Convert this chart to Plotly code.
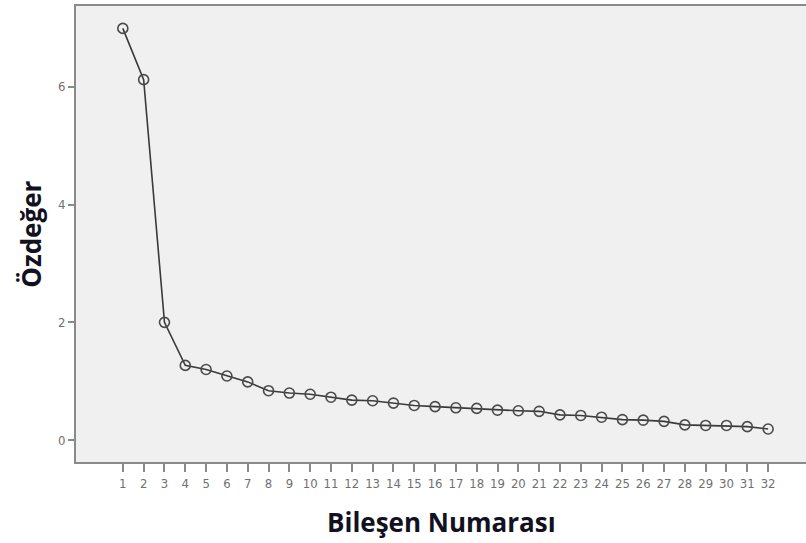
import plotly.graph_objects as go

components = list(range(1, 33))
eigenvalues = [6.99, 6.12, 2.00, 1.27, 1.20, 1.09, 0.99, 0.84, 0.80, 0.78,
               0.73, 0.68, 0.67, 0.63, 0.59, 0.57, 0.55, 0.54, 0.51, 0.50,
               0.49, 0.43, 0.42, 0.39, 0.35, 0.34, 0.32, 0.26, 0.25, 0.25,
               0.23, 0.19]
y_ticks = [0, 2, 4, 6]

tick_font = dict(size=13, color="#707070",
                 family="Liberation Sans Narrow, DejaVu Sans Condensed, DejaVu Sans")
title_font = dict(size=26, color="#111122", family="Open Sans, DejaVu Sans")

fig = go.Figure()
fig.add_trace(go.Scatter(
    x=components, y=eigenvalues, mode="lines+markers",
    line=dict(color="#3a3a3a", width=1.6),
    marker=dict(symbol="circle-open", size=10, color="#4a4a4a",
                line=dict(width=1.6, color="#4a4a4a")),
    showlegend=False, hoverinfo="x+y",
))

fig.update_layout(
    width=806, height=543,
    margin=dict(l=76, r=0, t=6, b=81),
    paper_bgcolor="white", plot_bgcolor="#f0f0f0",
    font=dict(family="Open Sans, DejaVu Sans", color="#555555"),
    xaxis=dict(
        range=[-1.25, 33.82], tickmode="array", tickvals=components,
        ticktext=[str(c) for c in components],
        showgrid=False, zeroline=False, showline=True, linecolor="#8a8a8a",
        linewidth=2, mirror=True, ticks="outside", ticklen=8, tickwidth=2,
        tickcolor="#8a8a8a", tickfont=tick_font,
    ),
    yaxis=dict(
        range=[-0.37, 7.37], tickmode="array", tickvals=y_ticks,
        showgrid=False, zeroline=False, showline=True, linecolor="#8a8a8a",
        linewidth=2, ticks="outside", ticklen=6, tickwidth=2,
        tickcolor="#8a8a8a", tickfont=tick_font,
    ),
    annotations=[
        dict(text="<b>Bileşen Numarası</b>", xref="paper", yref="paper",
             x=0.5, y=-0.132, xanchor="center", yanchor="middle", showarrow=False,
             font=title_font),
        dict(text="<b>Özdeğer</b>", xref="paper", yref="paper",
             x=-0.062, y=0.5, xanchor="center", yanchor="middle", showarrow=False,
             textangle=-90, font=title_font),
    ],
)

fig.write_html("out.html", config={"displayModeBar": False},
               post_script="document.body.style.margin='0';document.body.style.overflow='hidden';")
